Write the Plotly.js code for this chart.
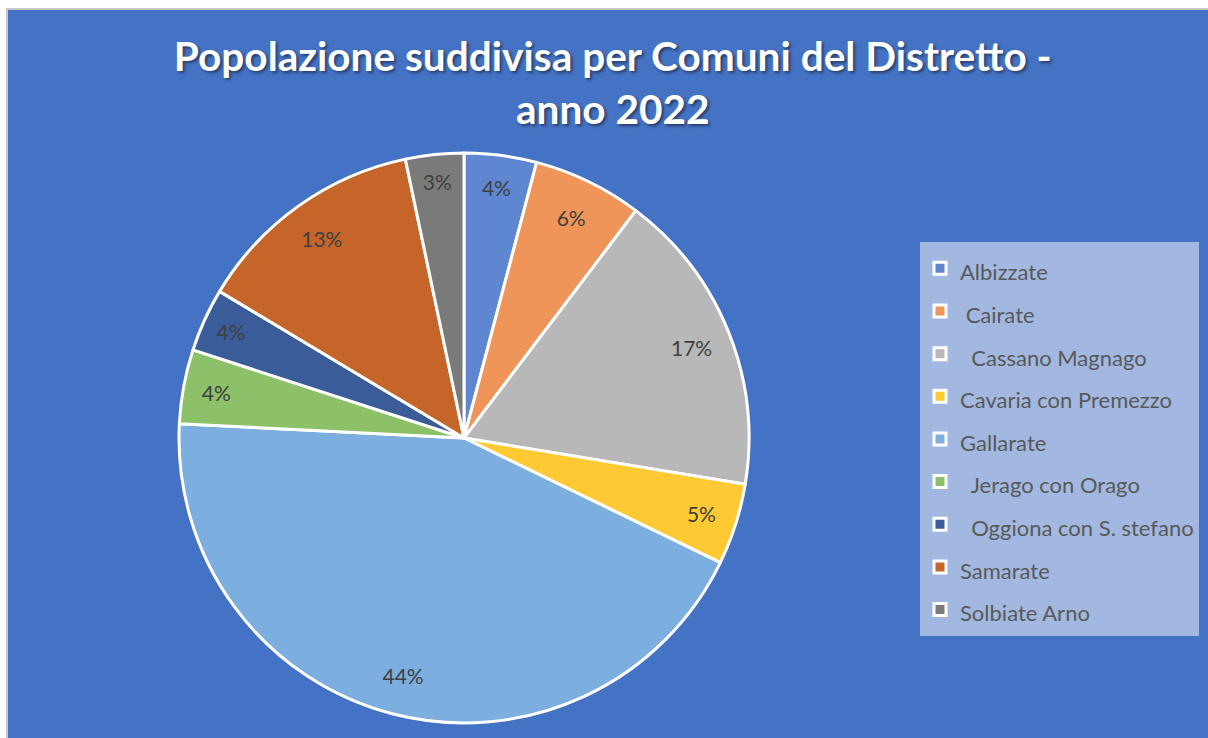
<!DOCTYPE html>
<html>
<head>
<meta charset="utf-8">
<script src="https://cdn.plot.ly/plotly-3.0.1.min.js"></script>
<style>
  html, body { margin: 0; padding: 0; background: #ffffff; width: 1208px; height: 738px; overflow: hidden; }
  #chart { position: absolute; left: 6px; top: 8px; width: 1202px; height: 730px;
           border-left: 2px solid #c9c9c9; border-top: 2px solid #c9c9c9; box-sizing: border-box; }
</style>
</head>
<body>
<div id="chart"></div>
<script>
// Categories (legend labels, as in the original, including leading spaces)
const comuni = [
  "Albizzate",
  "\u00A0Cairate",
  "\u00A0\u00A0Cassano Magnago",
  "Cavaria con Premezzo",
  "Gallarate",
  "\u00A0\u00A0Jerago con Orago",
  "\u00A0\u00A0Oggiona con S. stefano",
  "Samarate",
  "Solbiate Arno"
];
// Share of population (%)
const quota = [4.1, 6.2, 17.3, 4.6, 43.6, 4.2, 3.6, 13.1, 3.3];
const colori = ["#5F86D0", "#F0955A", "#B8B8B8", "#FFC933", "#7CAEDF",
                "#8CC069", "#3A5C98", "#C5652A", "#7A7A7A"];

const W = 1200, H = 728;
const cx = 456, cy = 428, R = 285;

const legendLabels = comuni.map(s => '<span style="font-size:22px">' + s + '</span>');
const domain = { x: [(cx - R) / W, (cx + R) / W], y: [(H - cy - R) / H, (H - cy + R) / H] };

// Coloured slices (no text)
const slices = {
  type: 'pie',
  labels: legendLabels,
  values: quota,
  sort: false,
  direction: 'clockwise',
  rotation: 0,
  marker: { colors: colori, line: { color: '#ffffff', width: 3 } },
  textinfo: 'none',
  hoverinfo: 'label+percent',
  domain: domain
};

// Same data, transparent ring: puts the percentage labels near the rim, as in the original
const labelsRing = {
  type: 'pie',
  labels: legendLabels,
  values: quota,
  sort: false,
  direction: 'clockwise',
  rotation: 0,
  hole: 0.72,
  showlegend: false,
  marker: { colors: quota.map(() => 'rgba(0,0,0,0)'), line: { width: 0 } },
  texttemplate: '%{percent:.0%}',
  textposition: 'inside',
  insidetextorientation: 'horizontal',
  textfont: { family: 'Lato, sans-serif', size: 21, color: '#404040' },
  hoverinfo: 'skip',
  domain: domain
};

const layout = {
  width: W, height: H,
  margin: { l: 0, r: 0, t: 0, b: 0 },
  paper_bgcolor: '#4472C4',
  plot_bgcolor: '#4472C4',
  font: { family: 'Lato, sans-serif' },
  title: {
    text: 'Popolazione suddivisa per Comuni del Distretto -<br>anno 2022',
    x: 0.504, xanchor: 'center',
    y: 0.916, yref: 'container', yanchor: 'top',
    font: { family: 'Lato, sans-serif', size: 40.6, color: '#ffffff', weight: 'bold',
            shadow: '2px 2px 3px rgba(0,0,0,0.45)' }
  },
  showlegend: true,
  legend: {
    x: 912 / W, xanchor: 'left',
    y: 1 - 232 / H, yanchor: 'top',
    bgcolor: '#A2B8E0',
    borderwidth: 0,
    font: { family: 'Lato, sans-serif', size: 30.5, color: '#595959' },
    traceorder: 'normal'
  }
};

Plotly.newPlot('chart', [slices, labelsRing], layout, { displayModeBar: false, staticPlot: true });
</script>
</body>
</html>
